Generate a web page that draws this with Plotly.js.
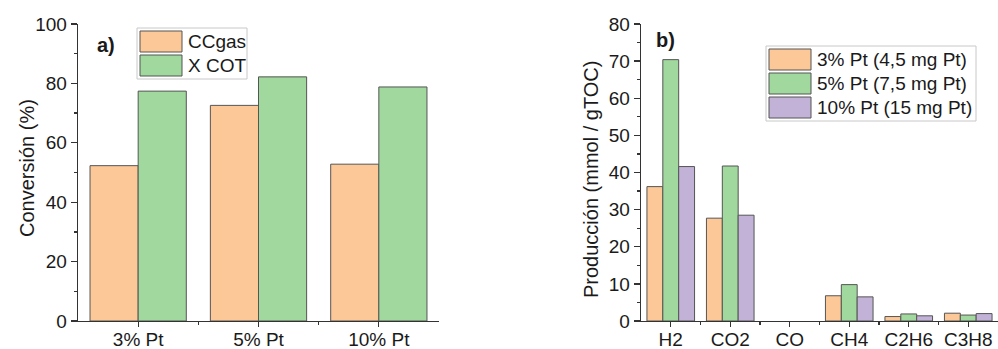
<!DOCTYPE html>
<html>
<head>
<meta charset="utf-8">
<script src="https://cdn.plot.ly/plotly-3.0.1.min.js"></script>
<style>html,body{margin:0;padding:0;background:#fff;}#chart{width:998px;height:349px;}</style>
</head>
<body>
<div id="chart"></div>
<script>
// ---- data (panel a) ----
var catsA = ['3% Pt', '5% Pt', '10% Pt'];
var ccgas = [52.3, 72.6, 52.8];
var xcot = [77.4, 82.2, 78.8];
var namesA = ['CCgas', 'X COT'];

// ---- data (panel b) ----
var catsB = ['H2', 'CO2', 'CO', 'CH4', 'C2H6', 'C3H8'];
var pt3 = [36.2, 27.7, 0, 6.8, 1.2, 2.1];
var pt5 = [70.4, 41.75, 0, 9.8, 1.9, 1.6];
var pt10 = [41.6, 28.5, 0, 6.5, 1.4, 2.0];
var namesB = ['3% Pt (4,5 mg Pt)', '5% Pt (7,5 mg Pt)', '10% Pt (15 mg Pt)'];

var W = 998, H = 349, MT = 24, MB = 28;
var PH = H - MT - MB;
function px(x) { return x / W; }
function py(y) { return (H - MB - y) / PH; }

var cOrange = 'rgb(253,200,152)', cGreen = 'rgb(160,216,157)', cPurple = 'rgb(194,178,215)';
var lineCol = 'rgb(85,85,85)';
function outline(vals) { return {color: lineCol, width: vals.map(function (v) { return v === 0 ? 0 : 1; })}; }
var font = 'Liberation Sans, Arial, sans-serif';
var txt = '#1a1a1a';

var idxA = catsA.map(function (_, i) { return i; });
var idxB = catsB.map(function (_, i) { return i; });

var data = [
  {type: 'bar', name: namesA[0], x: idxA, y: ccgas, xaxis: 'x', yaxis: 'y', marker: {color: cOrange, line: outline(ccgas)}},
  {type: 'bar', name: namesA[1], x: idxA, y: xcot, xaxis: 'x', yaxis: 'y', marker: {color: cGreen, line: outline(xcot)}},
  {type: 'bar', name: namesB[0], x: idxB, y: pt3, xaxis: 'x2', yaxis: 'y2', marker: {color: cOrange, line: outline(pt3)}},
  {type: 'bar', name: namesB[1], x: idxB, y: pt5, xaxis: 'x2', yaxis: 'y2', marker: {color: cGreen, line: outline(pt5)}},
  {type: 'bar', name: namesB[2], x: idxB, y: pt10, xaxis: 'x2', yaxis: 'y2', marker: {color: cPurple, line: outline(pt10)}}
];

var axCommon = {
  showline: true, linecolor: '#333', linewidth: 1.3, showgrid: false, zeroline: false,
  ticks: 'outside', tickcolor: '#333', tickwidth: 1.3,
  tickfont: {family: font, size: 19, color: txt}
};

function mk(o) { var r = {}; for (var k in axCommon) r[k] = axCommon[k]; for (var k2 in o) r[k2] = o[k2]; return r; }

var layout = {
  width: W, height: H,
  margin: {l: 0, r: 0, t: MT, b: MB, pad: 0},
  paper_bgcolor: '#fff', plot_bgcolor: '#fff',
  showlegend: false,
  barmode: 'group', bargap: 0.2, bargroupgap: 0,
  xaxis: mk({domain: [px(78), px(439)], anchor: 'y', range: [-0.5, 2.5],
    tickmode: 'array', tickvals: idxA, ticktext: catsA, ticklen: 5, ticklabelstandoff: -4,
    minor: {tickmode: 'array', tickvals: [0.5, 1.5], ticks: 'outside', ticklen: 3, tickcolor: '#333', tickwidth: 1.3}}),
  yaxis: mk({domain: [0, 1], anchor: 'x', range: [0, 100], dtick: 20, ticklen: 6,
    minor: {dtick: 10, ticks: 'outside', ticklen: 3, tickcolor: '#333', tickwidth: 1.3}}),
  xaxis2: mk({domain: [px(641), 1], anchor: 'y2', range: [-0.5, 5.5],
    tickmode: 'array', tickvals: idxB, ticktext: catsB, ticklen: 5, ticklabelstandoff: -4,
    minor: {tickmode: 'array', tickvals: [0.5, 1.5, 2.5, 3.5, 4.5], ticks: 'outside', ticklen: 3, tickcolor: '#333', tickwidth: 1.3}}),
  yaxis2: mk({domain: [0, 1], anchor: 'x2', range: [0, 80], dtick: 10, ticklen: 6,
    minor: {dtick: 5, ticks: 'outside', ticklen: 3, tickcolor: '#333', tickwidth: 1.3}}),
  shapes: [],
  annotations: []
};

// axis titles
layout.annotations.push({xref: 'paper', yref: 'paper', x: px(27), y: py(168), text: 'Conversión (%)', textangle: -90,
  showarrow: false, xanchor: 'center', yanchor: 'middle', font: {family: font, size: 20, color: txt}});
layout.annotations.push({xref: 'paper', yref: 'paper', x: px(591), y: py(180), text: 'Producción (mmol / gTOC)', textangle: -90,
  showarrow: false, xanchor: 'center', yanchor: 'middle', font: {family: font, size: 20, color: txt}});
// panel labels
layout.annotations.push({xref: 'paper', yref: 'paper', x: px(95), y: py(45), text: '<b>a)</b>', showarrow: false,
  xanchor: 'left', yanchor: 'middle', font: {family: font, size: 20, color: txt}});
layout.annotations.push({xref: 'paper', yref: 'paper', x: px(654), y: py(40), text: '<b>b)</b>', showarrow: false,
  xanchor: 'left', yanchor: 'middle', font: {family: font, size: 20, color: txt}});

// custom legends (big swatches)
function legend(x0, y0, w, names, colors) {
  var rowH = 24;
  var h = names.length * rowH + 3;
  layout.shapes.push({type: 'rect', xref: 'paper', yref: 'paper', x0: px(x0), x1: px(x0 + w), y0: py(y0), y1: py(y0 + h),
    line: {color: '#c8c8c8', width: 1}, fillcolor: '#fff', layer: 'above'});
  names.forEach(function (n, i) {
    var top = y0 + 3 + i * rowH;
    layout.shapes.push({type: 'rect', xref: 'paper', yref: 'paper', x0: px(x0 + 3), x1: px(x0 + 45), y0: py(top), y1: py(top + 21),
      line: {color: lineCol, width: 1}, fillcolor: colors[i], layer: 'above'});
    layout.annotations.push({xref: 'paper', yref: 'paper', x: px(x0 + 49), y: py(top + 10.5), text: n, showarrow: false,
      xanchor: 'left', yanchor: 'middle', font: {family: font, size: 19, color: txt}});
  });
}
legend(137, 28, 110, namesA, [cOrange, cGreen]);
legend(766, 46, 210, namesB, [cOrange, cGreen, cPurple]);

Plotly.newPlot('chart', data, layout, {displayModeBar: false, staticPlot: true});
</script>
</body>
</html>
